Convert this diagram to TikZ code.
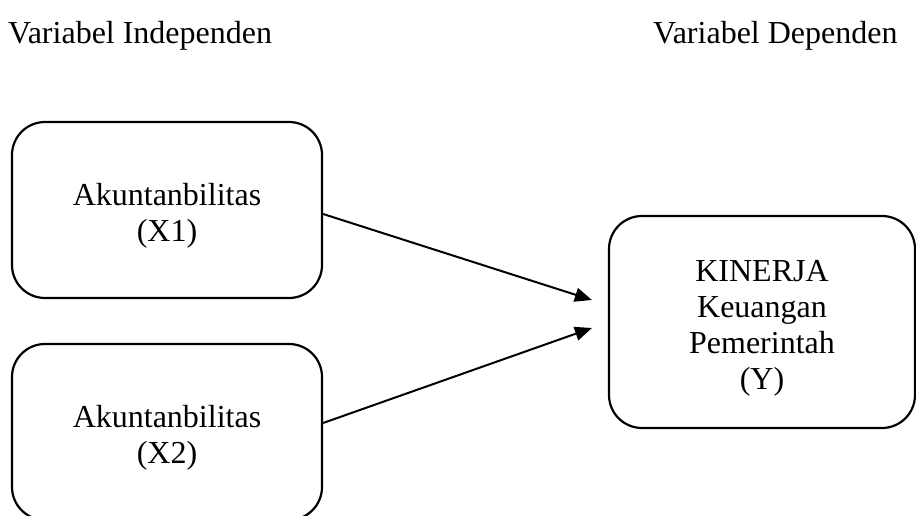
\documentclass[tikz,border=0pt]{standalone}
\usepackage{fontspec}
\setmainfont{Liberation Serif}
\usepackage{tikz}
\usetikzlibrary{positioning,arrows.meta,calc}

\newcommand{\toppad}{\rule{0pt}{33pt}}

\begin{document}
\begin{tikzpicture}[x=1pt,y=-1pt,>={Triangle[length=17pt,width=14pt]},
  every node/.style={font=\fontsize{32}{36}\selectfont},
  varbox/.style={draw,line width=2.2pt,rounded corners=33pt,align=center,inner sep=0pt}]
\useasboundingbox (0,0) rectangle (916,516);
\node[anchor=base west,inner sep=0pt] (indep) at (8,44) {Variabel Independen};
\node[anchor=base west,inner sep=0pt] (dep) at (653,44) {Variabel Dependen};
\node[varbox,minimum width=310pt,minimum height=176pt] (x1) at (167,210) {\toppad Akuntanbilitas\\(X1)};
\node[varbox,minimum width=310pt,minimum height=176pt] (x2) at (167,432) {\toppad Akuntanbilitas\\(X2)};
\node[varbox,minimum width=306pt,minimum height=212pt] (y) at (762,322) {\toppad KINERJA\\Keuangan\\Pemerintah\\(Y)};
\coordinate (in1) at ($(y.west)+(-16,-22)$);
\coordinate (in2) at ($(y.west)+(-16,6)$);
\draw[->,line width=2pt] ([yshift=-4pt]x1.east) -- (in1);
\draw[->,line width=2pt] ([yshift=9pt]x2.east) -- (in2);
\end{tikzpicture}
\end{document}
